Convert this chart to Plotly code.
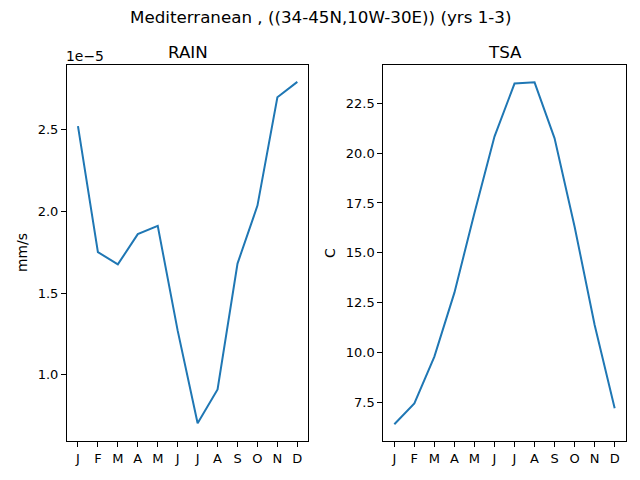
import plotly.graph_objects as go
from plotly.subplots import make_subplots

MONTHS = ["J", "F", "M", "A", "M", "J", "J", "A", "S", "O", "N", "D"]

# monthly climatology
RAIN = [2.52e-5, 1.75e-5, 1.675e-5, 1.86e-5, 1.91e-5, 1.27e-5,
        0.704e-5, 0.911e-5, 1.68e-5, 2.034e-5, 2.696e-5, 2.79e-5]
TSA = [6.40, 7.45, 9.79, 13.0, 17.0, 20.83,
       23.49, 23.55, 20.74, 16.31, 11.38, 7.2]

RAIN_TICKS = [1.0e-5, 1.5e-5, 2.0e-5, 2.5e-5]
RAIN_TICKTEXT = ["1.0", "1.5", "2.0", "2.5"]
TSA_TICKS = [7.5, 10.0, 12.5, 15.0, 17.5, 20.0, 22.5]
TSA_TICKTEXT = ["7.5", "10.0", "12.5", "15.0", "17.5", "20.0", "22.5"]

FONT = "DejaVu Sans, Liberation Sans, sans-serif"
BLUE = "#1f77b4"
W, H = 640, 480


def px(x):
    return x / W


def py(y):
    return 1 - y / H


fig = make_subplots(rows=1, cols=2)
x = list(range(len(MONTHS)))

fig.add_trace(go.Scatter(x=x, y=RAIN, mode="lines",
                         line=dict(color=BLUE, width=2), showlegend=False),
              row=1, col=1)
fig.add_trace(go.Scatter(x=x, y=TSA, mode="lines",
                         line=dict(color=BLUE, width=2), showlegend=False),
              row=1, col=2)

axis_style = dict(showline=True, mirror=True, linecolor="black", linewidth=1,
                  ticks="outside", ticklen=5, tickcolor="black", showgrid=False,
                  zeroline=False, tickfont=dict(family=FONT, size=13, color="black"))

fig.update_xaxes(tickvals=x, ticktext=MONTHS, range=[-0.55, 11.55], **axis_style)
fig.update_xaxes(domain=[px(67), px(308.3)], row=1, col=1)
fig.update_xaxes(domain=[px(383.3), px(625.7)], row=1, col=2)

fig.update_yaxes(**axis_style)
fig.update_yaxes(domain=[py(441), py(65)])
fig.update_yaxes(tickvals=RAIN_TICKS, ticktext=RAIN_TICKTEXT,
                 range=[0.596e-5, 2.893e-5], row=1, col=1)
fig.update_yaxes(tickvals=TSA_TICKS, ticktext=TSA_TICKTEXT,
                 range=[5.56, 24.42], row=1, col=2)

ann_font = dict(family=FONT, color="black")
base = dict(xref="paper", yref="paper", showarrow=False,
            xanchor="center", yanchor="middle")
fig.add_annotation(text="Mediterranean , ((34-45N,10W-30E)) (yrs 1-3)",
                   x=0.5, y=py(17), font=dict(size=16.7, **ann_font), **base)
fig.add_annotation(text="RAIN", x=px((67 + 308) / 2), y=py(52),
                   font=dict(size=16.7, **ann_font), **base)
fig.add_annotation(text="TSA", x=px((383 + 626) / 2), y=py(52),
                   font=dict(size=16.7, **ann_font), **base)
fig.add_annotation(text="1e\u22125", x=px(85), y=py(56),
                   font=dict(size=13.9, **ann_font), **base)
fig.add_annotation(text="mm/s", x=px(22), y=py(253), textangle=-90,
                   font=dict(size=13.9, **ann_font), **base)
fig.add_annotation(text="C", x=px(330), y=py(253), textangle=-90,
                   font=dict(size=13.9, **ann_font), **base)

fig.update_layout(width=W, height=H, margin=dict(l=0, r=0, t=0, b=0),
                  paper_bgcolor="white", plot_bgcolor="white",
                  font=dict(family=FONT))

fig.write_html("out.html", config={"displayModeBar": False},
               post_script="document.body.style.margin='0px';")
